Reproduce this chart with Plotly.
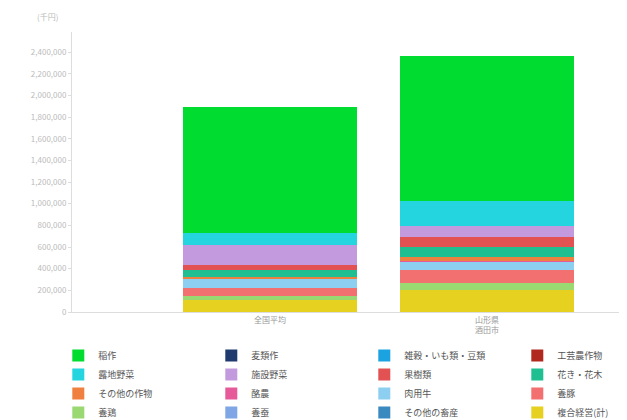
import plotly.graph_objects as go

categories = ["全国平均", "山形県<br>酒田市"]

series_names = ["稲作", "麦類作", "雑穀・いも類・豆類", "工芸農作物",
                "露地野菜", "施設野菜", "果樹類", "花き・花木",
                "その他の作物", "酪農", "肉用牛", "養豚",
                "養鶏", "養蚕", "その他の畜産", "複合経営(計)"]

# values in 千円, [全国平均, 山形県 酒田市]
v_inasaku = [1163000, 1340000]
v_mugi = [0, 0]
v_zakkoku = [0, 0]
v_kougei = [0, 0]
v_roji = [111000, 230000]
v_shisetsu = [185000, 100000]
v_kaju = [46000, 92000]
v_kaki = [65000, 92000]
v_sonota_saku = [15000, 37000]
v_rakunou = [4000, 10000]
v_nikuyou = [83000, 74000]
v_youton = [74000, 120000]
v_youkei = [37000, 65000]
v_yousan = [0, 0]
v_sonota_chiku = [0, 0]
v_fukugou = [111000, 203000]

series_values = [v_inasaku, v_mugi, v_zakkoku, v_kougei, v_roji, v_shisetsu,
                 v_kaju, v_kaki, v_sonota_saku, v_rakunou, v_nikuyou, v_youton,
                 v_youkei, v_yousan, v_sonota_chiku, v_fukugou]

colors = ["#00dc30", "#1f3a6e", "#1aa3e0", "#b0281e",
          "#24d4de", "#c49ade", "#e25252", "#1fbf92",
          "#f08040", "#e65a9a", "#8ccff0", "#f27070",
          "#9ad872", "#80a6e6", "#3a8ac0", "#e6d020"]

tick_vals = [0, 200000, 400000, 600000, 800000, 1000000, 1200000,
             1400000, 1600000, 1800000, 2000000, 2200000, 2400000]

FONT = "Noto Sans CJK JP"

fig = go.Figure()
n = len(series_names)
# add from bottom of stack (last legend item) to top
for i in reversed(range(n)):
    fig.add_trace(go.Bar(
        x=[0, 1], y=series_values[i], name=series_names[i],
        marker=dict(color=colors[i], line=dict(width=0)),
        legendrank=i + 1, width=0.8,
    ))

fig.update_layout(
    barmode="stack",
    width=619, height=412,
    margin=dict(l=64, r=7, t=24, b=108, autoexpand=False),
    paper_bgcolor="white", plot_bgcolor="white",
    font=dict(family=FONT, size=9, color="#999"),
    showlegend=True,
    legend=dict(orientation="h", x=-0.025, xanchor="left", y=-0.104, yanchor="top",
                entrywidth=108, entrywidthmode="pixels",
                font=dict(family=FONT, size=9, color="#555"),
                itemwidth=30, tracegroupgap=0,
                traceorder="normal"),
    xaxis=dict(range=[-0.912, 1.613], tickmode="array", tickvals=[0, 1],
               ticktext=categories, showgrid=False, zeroline=False,
               showline=True, linecolor="#ddd", linewidth=1,
               ticks="", tickfont=dict(size=8, color="#999")),
    yaxis=dict(range=[0, 2585000], tickvals=tick_vals, tickformat=",d",
               showgrid=False, zeroline=False, showline=True,
               linecolor="#ddd", linewidth=1, ticks="outside", ticklen=3,
               tickcolor="#ddd", tickfont=dict(size=8, color="#bbb")),
    annotations=[dict(text="(千円)", xref="paper", yref="paper",
                      x=-0.045, y=1.055, xanchor="center", yanchor="middle",
                      showarrow=False, font=dict(size=8, color="#bbb"))],
)

fig.write_html("out.html")
